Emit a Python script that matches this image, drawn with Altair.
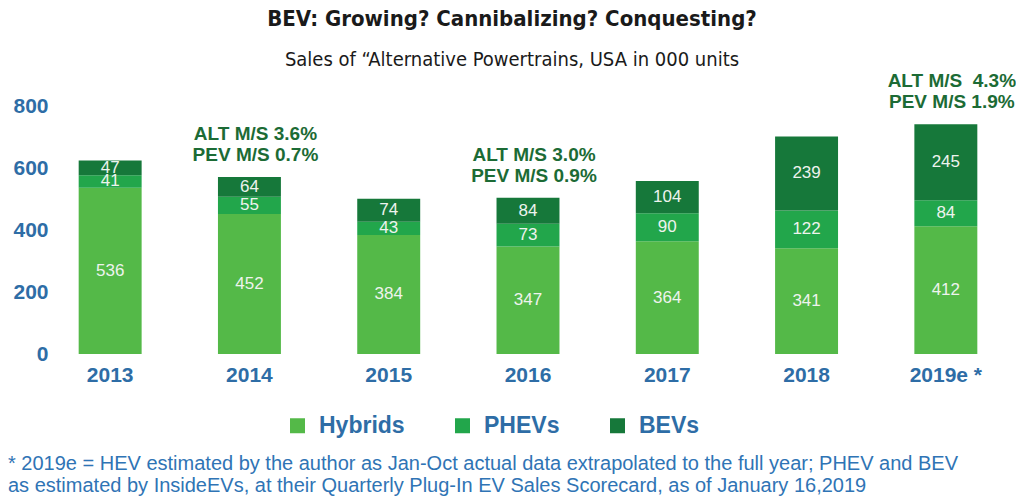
import altair as alt
import pandas as pd

years = ["2013", "2014", "2015", "2016", "2017", "2018", "2019e *"]
hybrids = [536, 452, 384, 347, 364, 341, 412]
phevs = [41, 55, 43, 73, 90, 122, 84]
bevs = [47, 64, 74, 84, 104, 239, 245]
series = ["Hybrids", "PHEVs", "BEVs"]
colors = ["#54b948", "#22a64b", "#16783a"]

note_years = ["2014", "2016", "2019e *"]
note_alt = ["ALT M/S 3.6%", "ALT M/S 3.0%", "ALT M/S\u00a0 4.3%"]
note_pev = ["PEV M/S 0.7%", "PEV M/S 0.9%", "PEV M/S 1.9%"]

footnote = [
    "* 2019e = HEV estimated by the author as Jan-Oct actual data extrapolated to the full year; PHEV and BEV",
    "as estimated by InsideEVs, at their Quarterly Plug-In EV Sales Scorecard, as of January 16,2019",
]

BLUE = "#2e6da6"
DARK = "#1c6b35"

rows = []
for i, y in enumerate(years):
    for k, (s, vals) in enumerate(zip(series, [hybrids, phevs, bevs])):
        rows.append({"year": y, "series": s, "value": vals[i], "order": k})
df = pd.DataFrame(rows)

totals = {y: h + p + b for y, h, p, b in zip(years, hybrids, phevs, bevs)}
notes = pd.DataFrame({
    "year": note_years,
    "alt": note_alt,
    "pev": note_pev,
    "total": [totals[y] for y in note_years],
})

foot = pd.DataFrame({"l1": [footnote[0]], "l2": [footnote[1]]})

x_enc = alt.X("year:N", sort=years, title=None,
              scale=alt.Scale(paddingInner=0.548, paddingOuter=0.17),
              axis=alt.Axis(labelAngle=0, labelFontSize=21, labelFontWeight="bold",
                            labelColor=BLUE, labelFont="Liberation Sans",
                            ticks=False, domain=False, labelPadding=10))
y_scale = alt.Scale(domain=[0, 800])

bars = alt.Chart(df).mark_bar().encode(
    x=x_enc,
    y=alt.Y("value:Q", stack="zero", scale=y_scale, title=None,
            axis=alt.Axis(values=[0, 200, 400, 600, 800], labelFontSize=21,
                          labelFontWeight="bold", labelColor=BLUE,
                          labelFont="Liberation Sans", ticks=False, domain=False,
                          grid=False, labelPadding=7)),
    color=alt.Color("series:N", scale=alt.Scale(domain=series, range=colors),
                    legend=alt.Legend(title=None, orient="none", legendX=231, legendY=308,
                                      direction="horizontal", symbolType="square",
                                      symbolSize=225, symbolStrokeWidth=0,
                                      labelFontSize=23, labelFontWeight="bold",
                                      labelColor=BLUE, labelFont="Liberation Sans",
                                      labelOffset=10, columnPadding=46, padding=0)),
    order=alt.Order("order:Q"),
)

labels = alt.Chart(df).transform_stack(
    stack="value", groupby=["year"], as_=["y0", "y1"],
    sort=[alt.SortField("order", order="ascending")]
).transform_calculate(mid="(datum.y0 + datum.y1) / 2").mark_text(
    color="#eef3ee", fontSize=17, font="Liberation Sans", baseline="middle"
).encode(
    x=alt.X("year:N", sort=years),
    y=alt.Y("mid:Q", scale=y_scale),
    text=alt.Text("value:Q"),
)

annot_style = dict(color=DARK, fontSize=19, fontWeight="bold", font="Liberation Sans",
                   baseline="middle", align="center", dx=6)
annot_alt = alt.Chart(notes).mark_text(dy=-43, **annot_style).encode(
    x=alt.X("year:N", sort=years),
    y=alt.Y("total:Q", scale=y_scale),
    text="alt",
)
annot_pev = alt.Chart(notes).mark_text(dy=-22, **annot_style).encode(
    x=alt.X("year:N", sort=years),
    y=alt.Y("total:Q", scale=y_scale),
    text="pev",
)

foot_style = dict(color="#2f74b5", fontSize=20, font="Liberation Sans",
                  align="left", baseline="middle")
foot1 = alt.Chart(foot).mark_text(**foot_style).encode(
    x=alt.value(-47), y=alt.value(358), text="l1")
foot2 = alt.Chart(foot).mark_text(**foot_style).encode(
    x=alt.value(-47), y=alt.value(380), text="l2")

chart = alt.layer(bars, labels, annot_alt, annot_pev, foot1, foot2).properties(
    width=946, height=248,
    autosize=alt.AutoSizeParams(type="none"),
    padding={"left": 47, "top": 98, "right": 15, "bottom": 142},
    title=alt.TitleParams(
        text="BEV: Growing? Cannibalizing? Conquesting?",
        subtitle="Sales of \u201cAlternative Powertrains, USA in 000 units",
        anchor="middle", dx=-16, offset=1,
        font="DejaVu Sans Condensed", fontSize=22, fontWeight="bold", color="#1a1a1a",
        subtitleFont="DejaVu Sans Condensed", subtitleFontSize=20, subtitleColor="#1a1a1a",
        subtitlePadding=19,
    ),
).configure_view(stroke=None)

chart.save("out.html", embed_options={"renderer": "svg", "actions": False})
